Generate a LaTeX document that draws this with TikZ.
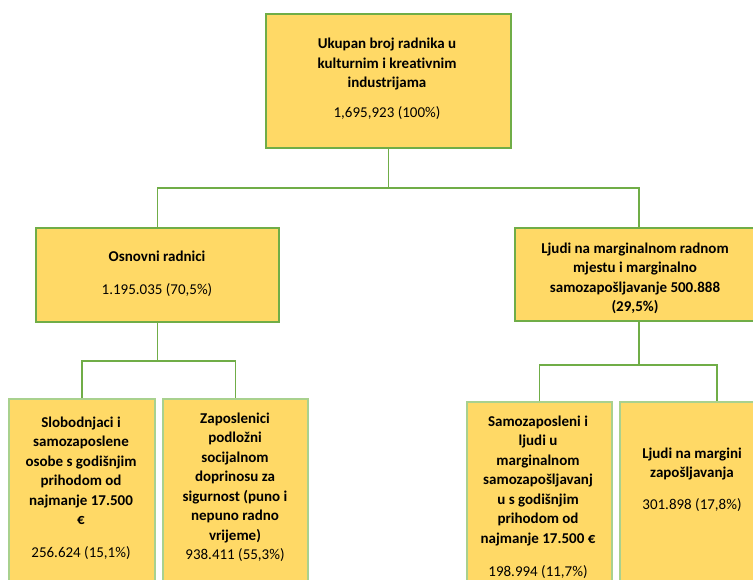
\documentclass[tikz,border=0pt]{standalone}
\usepackage{fontspec}
\setmainfont{Carlito}[Ligatures=NoCommon]
\definecolor{boxfill}{HTML}{FFD966}
\definecolor{linegreen}{HTML}{70AD47}
\definecolor{lightgreen}{HTML}{A9D18E}
\begin{document}
\begin{tikzpicture}[x=1pt,y=-1pt,
  box/.style={draw=linegreen, line width=2pt, fill=boxfill, inner sep=0pt, anchor=north west},
  lowbox/.style={draw=lightgreen, line width=2pt, fill=boxfill, inner sep=0pt, anchor=north west},
  conn/.style={draw=linegreen, line width=1.8pt},
  title/.style={font=\fontsize{15}{19.5}\selectfont\bfseries, align=center, inner sep=0pt},
  num/.style={font=\fontsize{15}{19.5}\selectfont, align=center, inner sep=0pt}]
\useasboundingbox (0,0) rectangle (753,579);
\clip (0,0) rectangle (753,579);
% boxes
\node[box, minimum width=245pt, minimum height=134pt] (top) at (265,13) {};
\node[box, minimum width=243pt, minimum height=94pt] (L) at (35,227) {};
\node[box, minimum width=248pt, minimum height=93pt] (R) at (514,227) {};
\node[lowbox, minimum width=146pt, minimum height=200pt] (B1) at (8,398) {};
\node[lowbox, minimum width=145pt, minimum height=200pt] (B2) at (162,398) {};
\node[lowbox, minimum width=145pt, minimum height=200pt] (B3) at (466,401) {};
\node[lowbox, minimum width=194pt, minimum height=200pt] (B4) at (619,401) {};
% connectors
\draw[conn] (top.south) -- ++(0,39) coordinate (j1);
\draw[conn] (L.north) |- (j1) -| (R.north);
\draw[conn] (L.south) -- ++(0,38) coordinate (j2);
\draw[conn] (B1.north) |- (j2) -| (B2.north);
\draw[conn] (R.south) -- ++(0,43) coordinate (j3);
\draw[conn] (B3.north) |- (j3) -| (B4.north);
% texts
\node[title, anchor=north] (tTop) at (387,38) {Ukupan broj radnika u\\kulturnim i kreativnim\\industrijama};
\node[num] (nTop) at (387,113) {1,695,923 (100\%)};
\node[title] (tL) at (157,256) {Osnovni radnici};
\node[num] (nL) at (157,290) {1.195.035 (70,5\%)};
\node[title, anchor=north] (tR) at (635,242.5) {Ljudi na marginalnom radnom\\mjestu i marginalno\\samozapošljavanje 500.888\\(29,5\%)};
\node[title, anchor=north] (tB1) at (81,416.5) {Slobodnjaci i\\samozaposlene\\osobe s godišnjim\\prihodom od\\najmanje 17.500\\€};
\node[num] (nB1) at (81,553) {256.624 (15,1\%)};
\node[title, anchor=north] (tB2) at (235,412.5) {Zaposlenici\\podložni\\socijalnom\\doprinosu za\\sigurnost (puno i\\nepuno radno\\vrijeme)};
\node[num] (nB2) at (235,555) {938.411 (55,3\%)};
\node[title, anchor=north] (tB3) at (538,415.5) {Samozaposleni i\\ljudi u\\marginalnom\\samozapošljavanj\\u s godišnjim\\prihodom od\\najmanje 17.500 €};
\node[num] (nB3) at (538,572) {198.994 (11,7\%)};
\node[title, anchor=north] (tB4) at (692,447.5) {Ljudi na margini\\zapošljavanja};
\node[num] (nB4) at (692,505) {301.898 (17,8\%)};
\end{tikzpicture}
\end{document}
